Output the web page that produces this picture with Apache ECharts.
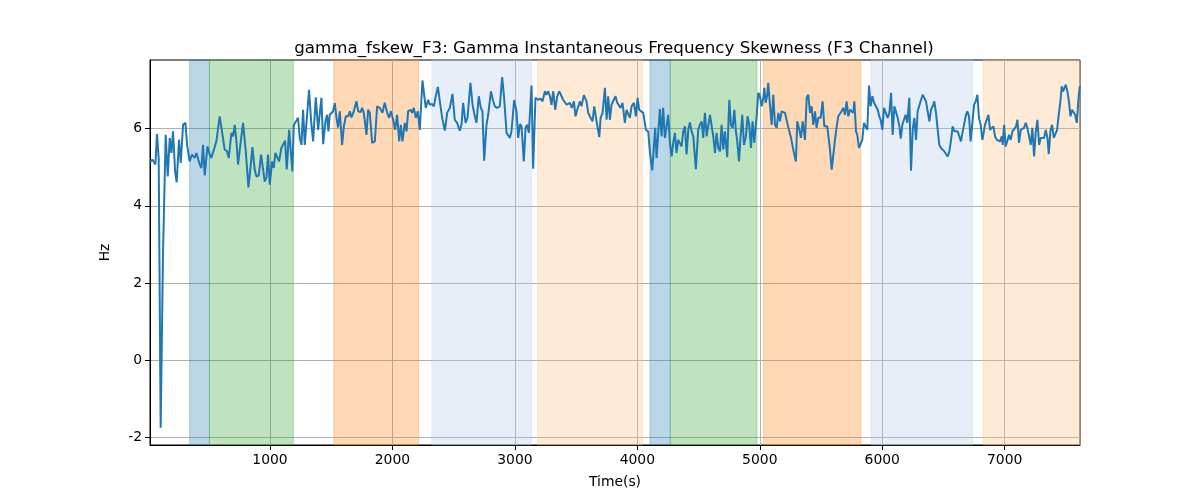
<!DOCTYPE html>
<html>
<head>
<meta charset="utf-8">
<script src="https://cdn.jsdelivr.net/npm/echarts@6/dist/echarts.min.js"></script>
<style>
  html, body { margin: 0; padding: 0; background: #fff; }
  #main { width: 1200px; height: 500px; }
</style>
</head>
<body>
<div id="main"></div>
<script>
// gamma instantaneous frequency skewness, F3 channel: [time (s), Hz]
const skewSamples = [
  [20,5.13],[26,5.11],[39,5.20],[53,5.17],[64,5.07],[77,5.86],[91,5.24],[107,-1.75],[126,2.73],[148,5.84],
  [165,4.76],[181,5.76],[195,5.37],[208,5.93],[225,4.89],[238,4.61],[257,5.71],[271,5.11],[290,6.10],[309,6.15],
  [323,5.58],[344,5.15],[363,5.33],[385,5.24],[399,5.37],[412,5.42],[426,5.07],[440,4.98],[453,5.58],[467,4.79],
  [489,5.54],[508,5.33],[521,5.24],[535,5.20],[562,5.67],[589,6.32],[603,6.35],[630,5.46],[649,5.42],[663,5.24],
  [685,5.89],[698,5.80],[712,6.10],[726,5.67],[739,5.07],[758,5.58],[780,6.15],[802,5.42],[824,4.48],[843,5.07],
  [856,5.52],[875,4.94],[889,4.76],[908,4.79],[927,5.33],[943,5.37],[957,4.63],[971,4.74],[984,5.33],[998,4.55],
  [1017,5.15],[1031,4.98],[1044,5.37],[1058,5.42],[1074,5.15],[1093,5.50],[1107,5.46],[1123,5.69],[1137,4.94],[1156,5.97],
  [1167,6.00],[1183,4.89],[1194,6.09],[1210,6.10],[1229,6.28],[1243,5.76],[1257,5.58],[1270,6.49],[1284,5.58],[1298,5.63],
  [1319,7.01],[1336,6.19],[1352,5.67],[1374,6.81],[1393,5.97],[1406,5.97],[1420,6.80],[1434,5.60],[1453,6.19],[1466,6.36],
  [1477,5.93],[1488,6.36],[1502,6.41],[1515,6.45],[1529,6.66],[1543,6.28],[1556,6.03],[1570,6.45],[1589,5.58],[1603,6.06],
  [1619,6.32],[1638,6.32],[1652,6.45],[1665,6.29],[1684,6.45],[1706,6.71],[1720,6.45],[1739,6.43],[1752,6.54],[1766,6.41],
  [1788,5.84],[1801,6.49],[1815,6.41],[1834,5.63],[1856,5.67],[1875,6.58],
  [1897,6.54],[1918,6.41],[1937,6.67],[1957,6.41],[1973,6.28],[1987,6.45],[2006,6.23],[2022,5.97],[2038,6.36],[2055,5.67],
  [2068,6.10],[2082,5.67],[2101,6.15],[2115,5.93],[2128,6.45],[2147,6.49],[2161,6.41],[2174,6.54],[2191,6.28],[2207,6.45],
  [2223,5.97],[2234,5.97],
  [2245,7.25],[2272,6.54],[2292,6.75],[2305,6.62],[2324,6.64],[2338,6.58],[2351,6.80],[2371,7.08],[2387,6.71],[2406,6.28],
  [2428,5.95],[2447,6.41],[2469,6.54],[2490,6.90],[2509,6.23],[2528,6.15],[2550,5.95],[2564,6.10],[2577,6.67],[2597,6.15],
  [2613,6.28],[2637,7.19],[2654,6.62],[2670,6.36],[2686,6.15],[2705,6.84],[2722,6.54],[2735,6.45],[2749,5.17],[2768,6.10],
  [2782,6.36],[2790,6.41],[2804,6.97],[2823,6.71],[2836,6.58],[2855,6.54],[2877,6.58],[2896,7.34],[2912,6.80],[2932,5.89],
  [2945,5.86],[2959,5.76],[2972,5.93],[2994,6.74],[3013,6.45],[3027,5.76],[3041,6.12],[3054,6.06],[3073,5.15],[3087,6.02],
  [3100,6.10],[3114,5.89],[3128,5.90],[3136,7.12],[3149,4.96],[3168,6.80],[3190,6.75],[3209,6.78],[3226,6.71],[3245,6.97],
  [3258,6.88],[3272,6.97],[3286,6.84],[3299,6.62],[3313,6.97],[3329,6.49],[3346,6.84],[3362,6.97],[3381,6.84],[3394,6.75],
  [3408,6.71],[3422,6.62],[3435,6.58],[3449,6.67],[3465,6.54],[3482,6.71],[3495,6.32],[3509,6.49],[3531,6.71],[3544,6.58],
  [3563,6.87],[3585,6.71],[3599,6.41],[3618,6.28],[3634,6.19],[3648,6.58],[3667,6.19],[3689,5.78],[3700,6.28],[3716,6.41],
  [3735,7.06],[3749,6.23],[3762,6.84],[3776,6.23],[3789,6.62],[3803,6.67],[3822,6.84],[3836,6.67],[3852,6.67],[3863,6.54],
  [3879,6.67],[3898,6.15],[3912,6.49],[3926,6.54],[3939,6.28],[3953,6.58],[3972,6.67],[3988,6.32],[4002,6.80],[4015,6.49],
  [4029,6.49],[4048,6.41],[4070,5.97],[4089,5.93],[4103,5.37],[4122,4.92],[4135,5.54],[4146,6.02],[4157,5.24],[4171,5.21],
  [4184,6.51],[4198,5.80],[4211,6.54],[4225,5.76],[4239,5.76],[4252,6.36],[4266,5.63],[4280,5.28],[4293,5.63],[4307,5.89],
  [4320,5.37],[4334,5.71],[4348,5.76],[4361,5.54],[4375,5.93],[4389,6.06],[4402,5.33],[4416,5.97],[4429,6.16],[4443,5.93],
  [4457,5.80],[4478,4.95],[4497,5.97],[4511,6.10],[4525,6.19],[4538,5.76],[4552,6.41],[4566,5.80],
  [4593,6.36],[4606,6.36],[4620,5.80],[4634,5.37],[4647,5.89],[4661,5.50],[4675,5.41],[4688,6.10],[4702,5.46],[4715,5.93],
  [4734,5.26],[4751,6.75],[4764,6.10],[4778,6.02],[4792,6.49],[4805,5.93],[4816,5.67],[4830,5.15],[4843,5.80],[4857,6.36],
  [4871,5.58],[4887,5.80],[4900,6.32],[4914,6.10],[4928,5.50],[4941,6.19],[4955,5.63],[4974,6.32],[4988,6.93],[5001,6.84],
  [5015,6.58],[5029,6.80],[5037,7.06],[5048,6.67],[5061,6.88],[5069,7.19],[5083,6.62],[5097,6.10],[5110,6.88],[5124,6.10],
  [5138,6.02],[5151,6.41],[5165,6.19],[5178,6.45],[5192,6.49],[5206,6.41],[5224,6.15],[5241,5.93],[5255,5.76],[5268,5.54],
  [5282,5.33],[5295,5.15],[5306,6.19],[5323,5.97],[5336,5.76],[5350,6.19],[5369,5.71],[5383,6.80],[5396,6.88],[5410,6.41],
  [5423,6.58],[5437,6.10],[5451,6.45],[5464,6.02],[5478,6.28],[5486,6.23],[5497,6.28],[5513,6.71],[5527,6.06],[5540,6.10],
  [5551,6.06],[5559,6.02],[5573,5.46],[5587,4.94],[5600,4.98],[5614,5.71],[5628,6.06],[5641,6.32],[5655,6.28],[5668,6.45],
  [5682,6.54],[5696,6.36],[5709,6.71],[5723,6.32],
  [5737,6.49],[5750,6.45],[5764,6.41],[5772,6.71],[5786,5.93],[5796,5.84],[5810,5.50],[5824,5.52],[5837,5.71],[5851,6.15],
  [5865,6.10],[5878,5.97],[5892,7.12],[5905,6.58],[5919,6.84],[5933,6.67],[5949,6.62],[5963,6.49],[5976,6.32],[5987,6.23],
  [6001,5.97],[6014,6.54],[6028,6.49],[6044,6.28],[6058,6.41],[6072,6.93],[6085,5.84],[6099,6.58],[6112,6.62],[6126,6.28],
  [6140,6.06],[6151,5.74],[6164,6.10],[6178,6.06],[6191,6.36],[6205,6.15],[6221,6.80],[6235,4.91],[6249,5.97],[6262,6.28],
  [6276,5.71],[6289,6.45],[6303,6.49],[6317,6.75],[6330,6.88],[6344,6.88],[6357,6.71],[6371,6.45],[6385,6.19],[6398,6.49],
  [6412,6.58],[6425,6.71],[6439,6.41],[6453,5.97],[6466,5.58],[6480,5.50],[6494,5.50],[6507,5.41],[6521,5.37],[6534,5.28],
  [6548,5.41],[6562,5.71],[6575,6.06],[6589,5.93],[6603,5.97],[6616,5.93],[6630,5.97],[6643,5.67],[6657,5.93],[6671,6.15],
  [6684,6.36],[6695,6.45],[6709,6.32],[6722,5.67],[6736,5.71],[6750,6.62],[6763,6.71],[6777,6.88],[6790,6.28],[6804,6.10],
  [6818,5.71],
  [6839,6.10],[6853,6.23],[6867,6.36],[6880,5.97],[6894,6.02],[6908,6.06],[6921,5.80],[6935,5.71],[6948,5.76],[6962,5.67],
  [6976,5.80],[6984,5.58],[6995,6.10],[7008,5.54],[7022,5.50],[7036,5.84],[7049,5.71],[7063,5.93],[7076,5.89],[7093,6.06],
  [7104,6.23],[7117,5.63],[7131,5.97],[7145,5.93],[7158,6.02],[7172,6.15],[7185,6.02],[7199,5.80],[7213,5.58],[7226,6.02],
  [7240,5.28],[7253,5.89],[7267,6.23],[7281,5.58],[7294,5.76],[7308,5.71],[7322,5.76],[7335,5.97],[7349,5.76],[7360,5.34],
  [7373,5.93],[7387,6.10],[7401,5.76],[7414,5.80],[7428,5.97],[7441,6.36],[7455,6.71],[7466,7.10],[7477,6.97],[7488,7.01],
  [7499,7.14],[7512,6.97],[7526,6.67],[7537,6.32],[7550,6.49],[7561,6.45],[7575,6.36],[7589,6.15],[7602,6.75],[7613,7.10]
];

// shaded segments (start, end, kind)
const spanStart = [344, 505, 1521, 2321, 3185, 4103, 4269, 5031, 5908, 6823];
const spanEnd   = [505, 1191, 2215, 3138, 4043, 4269, 4977, 5826, 6739, 7615];
const spanKind  = ["blue", "green", "orange", "lightblue", "lightorange",
                   "blue", "green", "orange", "lightblue", "lightorange"];

const xTicks = [1000, 2000, 3000, 4000, 5000, 6000, 7000];
const yTicks = [-2, 0, 2, 4, 6];

const kindColor = {
  blue: "rgba(31,119,180,0.3)",
  green: "rgba(44,160,44,0.3)",
  orange: "rgba(255,127,14,0.3)",
  lightblue: "rgba(174,199,232,0.3)",
  lightorange: "rgba(255,187,120,0.3)",
};

const chart = echarts.init(document.getElementById("main"));
const font = "DejaVu Sans";

const areas = spanStart.map((s, i) => [
  { xAxis: s, itemStyle: { color: kindColor[spanKind[i]], borderColor: kindColor[spanKind[i]], borderWidth: 1 } },
  { xAxis: spanEnd[i] },
]);

const option = {
  animation: false,
  title: {
    text: "gamma_fskew_F3: Gamma Instantaneous Frequency Skewness (F3 Channel)",
    left: 609,
    top: 35,
    textAlign: "center",
    textStyle: { fontFamily: font, fontSize: 16.7, fontWeight: "normal", color: "#000" },
  },
  grid: {
    left: 150, right: 120, top: 60, bottom: 55,
    show: true, borderColor: "#000", borderWidth: 1, backgroundColor: "transparent",
  },
  xAxis: {
    type: "value",
    min: 20,
    max: 7615,
    name: "Time(s)",
    nameLocation: "middle",
    nameGap: 30,
    nameTextStyle: { fontFamily: font, fontSize: 13.9, color: "#000" },
    axisLine: { show: true, onZero: false, lineStyle: { color: "#000", width: 1 } },
    axisTick: { show: true, length: 5, lineStyle: { color: "#000" }, customValues: xTicks },
    axisLabel: {
      fontFamily: font, fontSize: 13.9, color: "#000", margin: 8, customValues: xTicks,
      formatter: (v) => String(v),
    },
    splitLine: { show: true, lineStyle: { color: "#b0b0b0", width: 1 } },
  },
  yAxis: {
    type: "value",
    min: -2.2,
    max: 7.78,
    name: "Hz",
    nameLocation: "middle",
    nameGap: 38,
    nameRotate: 90,
    nameTextStyle: { fontFamily: font, fontSize: 13.9, color: "#000" },
    axisLine: { show: true, onZero: false, lineStyle: { color: "#000", width: 1 } },
    axisTick: { show: true, length: 5, lineStyle: { color: "#000" }, customValues: yTicks },
    axisLabel: {
      fontFamily: font, fontSize: 13.9, color: "#000", margin: 8, customValues: yTicks,
      formatter: (v) => String(v),
    },
    splitLine: { show: true, lineStyle: { color: "#b0b0b0", width: 1 } },
  },
  series: [
    {
      type: "line",
      data: [],
      z: 1,
      silent: true,
      markArea: { silent: true, data: areas },
    },
    {
      type: "line",
      data: skewSamples,
      z: 3,
      showSymbol: false,
      lineStyle: { color: "#1f77b4", width: 2 },
      itemStyle: { color: "#1f77b4" },
    },
  ],
};

chart.setOption(option);
</script>
</body>
</html>
